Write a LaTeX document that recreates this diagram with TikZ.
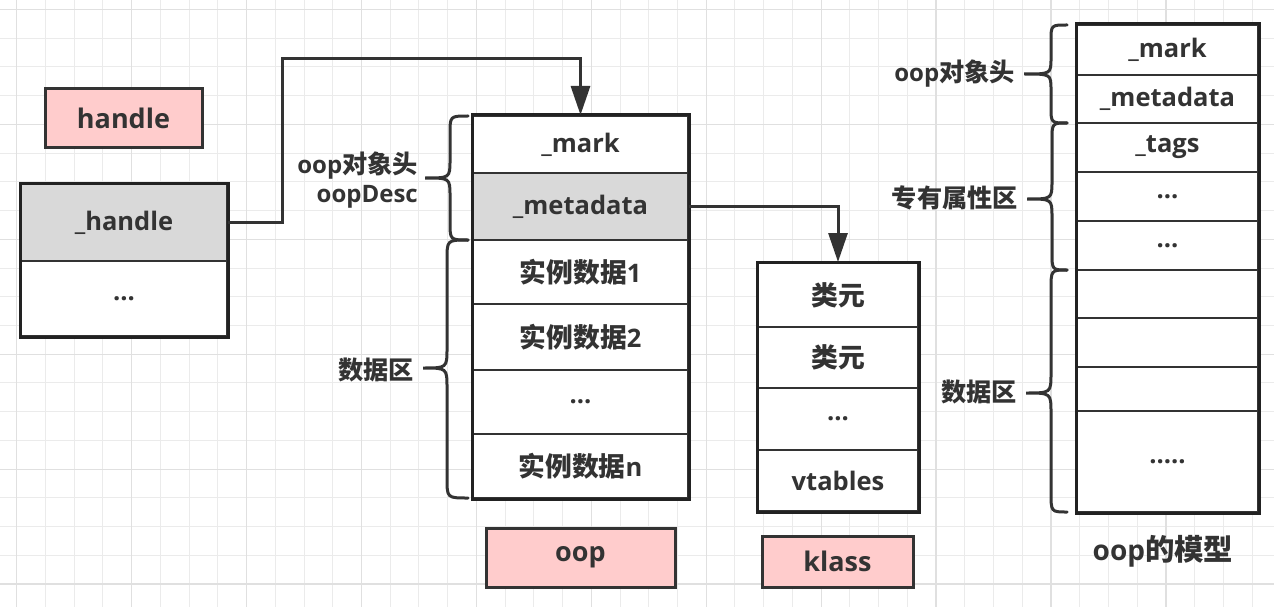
\documentclass[tikz,border=0pt]{standalone}
\usepackage{fontspec}
\setmainfont{Open Sans}
\newfontfamily\cjk{Noto Sans CJK SC}[Scale=1.05]
\usetikzlibrary{arrows.meta}
\definecolor{txt}{HTML}{333333}
\definecolor{edge}{HTML}{333333}
\definecolor{outer}{HTML}{222222}
\definecolor{pinkfill}{HTML}{FFCCCC}
\definecolor{greyfill}{HTML}{D9D9D9}
\definecolor{gridminor}{HTML}{EBEBEB}
\definecolor{gridmajor}{HTML}{E0E0E0}
\tikzset{
  cell/.style={draw=edge, line width=2pt, fill=white, inner sep=0pt, text=txt,
    font=\fontsize{25.5}{30}\selectfont\bfseries},
  labelbox/.style={draw=edge, line width=3pt, fill=pinkfill, inner sep=0pt, text=txt,
    font=\fontsize{27}{32}\selectfont\bfseries},
  outerframe/.style={draw=outer, line width=3pt},
  sidetext/.style={text=txt, inner sep=0pt, font=\fontsize{24}{30}\selectfont\bfseries},
  bracestyle/.style={draw=edge, line width=3pt, line cap=round},
  conn/.style={draw=edge, line width=3pt, -{Triangle[length=29pt,width=19pt]}},
}
% brace: #1 x of ends, #2 x of stem, #3 x of tip, #4 top y, #5 mid y, #6 bottom y, #7 radius
\newcommand\mybrace[7]{%
  \draw[bracestyle] (#1,#4) .. controls (#2,#4) .. (#2,#4+#7) -- (#2,#5-#7)
    .. controls (#2,#5) .. (#3,#5) .. controls (#2,#5) .. (#2,#5+#7)
    -- (#2,#6-#7) .. controls (#2,#6) .. (#1,#6);}
\begin{document}
\begin{tikzpicture}[x=1pt,y=-1pt]
\useasboundingbox (0,0) rectangle (1274,607);
\fill[white] (0,0) rectangle (1274,607);
% grid
\foreach \k in {0,...,43} \draw[gridminor, line width=1pt] (16.7+\k*28.73,0) -- (16.7+\k*28.73,607);
\foreach \k in {0,...,20} \draw[gridminor, line width=1pt] (0,9.5+\k*28.73) -- (1274,9.5+\k*28.73);
\foreach \k in {0,4,...,40} \draw[gridmajor, line width=1.3pt] (16.7+\k*28.73,0) -- (16.7+\k*28.73,607);
\foreach \k in {0,4,...,20} \draw[gridmajor, line width=1.3pt] (0,9.5+\k*28.73) -- (1274,9.5+\k*28.73);

% handle
\node[labelbox, minimum width=157pt, minimum height=59pt] (handleLbl) at (123.5,118.5) {handle};
\node[cell, fill=greyfill, minimum width=206pt, minimum height=77pt] (h1) at (124,222.5) {\_handle};
\node[cell, minimum width=206pt, minimum height=75pt] (h2) at (124,298.5) {...};
\draw[outerframe] (h1.north west) rectangle (h2.south east);

% oop
\node[cell, minimum width=215pt, minimum height=57pt] (mark) at (580.5,144.5) {\_mark};
\node[cell, fill=greyfill, minimum width=215pt, minimum height=67pt] (meta) at (580.5,206.5) {\_metadata};
\node[cell, minimum width=215pt, minimum height=64pt] (d1) at (580.5,272) {{\cjk\bfseries 实例数据}1};
\node[cell, minimum width=215pt, minimum height=66pt] (d2) at (580.5,337) {{\cjk\bfseries 实例数据}2};
\node[cell, minimum width=215pt, minimum height=64pt] (dd) at (580.5,402) {...};
\node[cell, minimum width=215pt, minimum height=64pt] (dn) at (580.5,466) {{\cjk\bfseries 实例数据}n};
\draw[outerframe] (mark.north west) rectangle (dn.south east);

% klass
\node[cell, minimum width=160pt, minimum height=64pt] (k1) at (838,295) {\cjk\bfseries 类元};
\node[cell, minimum width=160pt, minimum height=61pt] (k2) at (838,357.5) {\cjk\bfseries 类元};
\node[cell, minimum width=160pt, minimum height=62pt] (k3) at (838,419) {...};
\node[cell, minimum width=160pt, minimum height=61pt] (k4) at (838,480.5) {vtables};
\draw[outerframe] (k1.north west) rectangle (k4.south east);

% bottom labels
\node[labelbox, minimum width=189pt, minimum height=59pt] (oopLbl) at (580.5,557.5) {oop};
\node[labelbox, minimum width=151pt, minimum height=51pt] (klassLbl) at (837.5,561.5) {klass};

% connectors
\coordinate (c1) at (282,59);
\draw[conn] (h1.east) -| (c1) -| (mark.north);
\draw[conn] (meta.east) -| (k1.north);

% braces of oop
\mybrace{468}{450}{425}{116}{178}{240}{18}
\mybrace{468}{447}{423}{240}{368}{498}{20}
\node[sidetext, anchor=east, align=right] (hdrLbl) at (418,180) {oop{\cjk\bfseries 对象头}\\[-1pt]oopDesc};
\node[sidetext, anchor=east] (dataLbl) at (414,370) {\cjk\bfseries 数据区};

% right model
\node[cell, minimum width=181pt, minimum height=50pt] (r1) at (1167.5,50) {\_mark};
\node[cell, minimum width=181pt, minimum height=48pt] (r2) at (1167.5,99) {\_metadata};
\node[cell, minimum width=181pt, minimum height=49pt] (r3) at (1167.5,147.5) {\_tags};
\node[cell, minimum width=181pt, minimum height=49pt] (r4) at (1167.5,196.5) {...};
\node[cell, minimum width=181pt, minimum height=49pt] (r5) at (1167.5,245.5) {...};
\node[cell, minimum width=181pt, minimum height=48pt] (r6) at (1167.5,294) {};
\node[cell, minimum width=181pt, minimum height=49pt] (r7) at (1167.5,342.5) {};
\node[cell, minimum width=181pt, minimum height=44pt] (r8) at (1167.5,389) {};
\node[cell, minimum width=181pt, minimum height=101pt] (r9) at (1167.5,461.5) {.....};
\draw[outerframe] (r1.north west) rectangle (r9.south east);

\mybrace{1067}{1051}{1024}{25}{74}{123}{16}
\mybrace{1067}{1052}{1027}{123}{199}{270}{18}
\mybrace{1067}{1051}{1026}{270}{393}{512}{20}
\node[sidetext, anchor=east] (rHdr) at (1015,74) {oop{\cjk\bfseries 对象头}};
\node[sidetext, anchor=east] (rAttr) at (1018,198) {\cjk\bfseries 专有属性区};
\node[sidetext, anchor=east] (rData) at (1017,392) {\cjk\bfseries 数据区};
\node[text=txt, inner sep=0pt, font=\fontsize{28}{32}\selectfont\bfseries] (model) at (1163,551) {oop{\cjk\bfseries 的模型}};
\end{tikzpicture}
\end{document}
